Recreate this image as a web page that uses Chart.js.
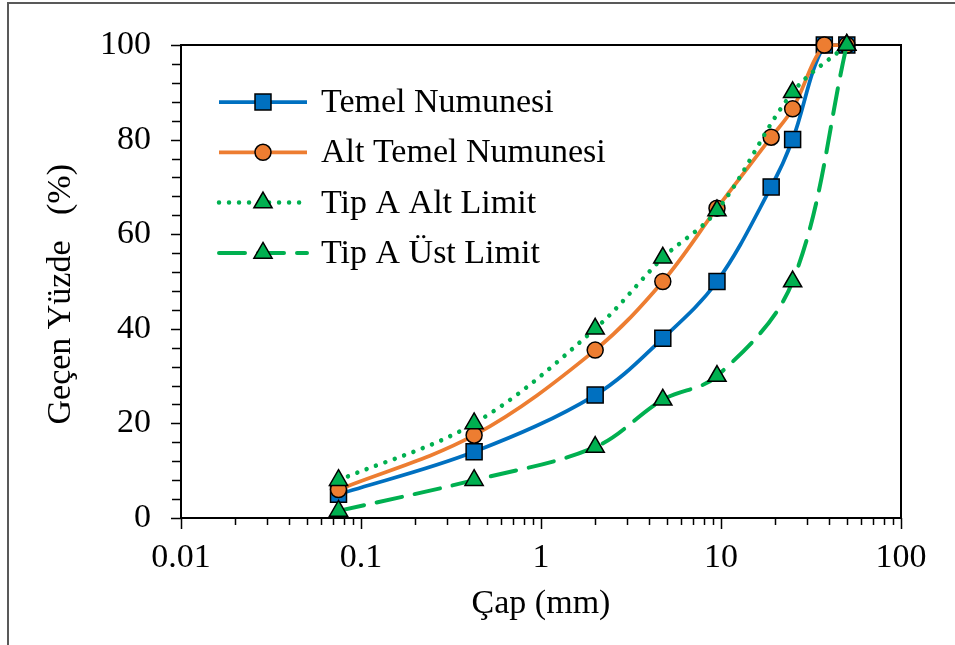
<!DOCTYPE html>
<html>
<head>
<meta charset="utf-8">
<script src="https://cdn.jsdelivr.net/npm/chart.js@4.4.1/dist/chart.umd.min.js"></script>
<style>
body { margin: 0; background: #fff; }
#frame { position: absolute; left: 7px; top: 2px; width: 1000px; height: 700px; border-left: 2px solid #595959; border-top: 2px solid #595959; }
#chart { position: absolute; left: 0; top: 0; }
</style>
</head>
<body>
<div id="frame"></div>
<canvas id="chart" width="955" height="645"></canvas>
<script>
// sieve sizes (mm) and passing percentages
var sieveSizes = [0.075, 0.425, 2, 4.75, 9.5, 19, 25, 37.5, 50];
var temelValues = [5, 14, 26, 38, 50, 70, 80, 100, 100];
var altTemelValues = [6, 17.5, 35.5, 50, 65.5, 80.5, 86.5, 100, 100];
var limitSizes = [0.075, 0.425, 2, 4.75, 9.5, 25, 50];
var altLimitValues = [8, 20, 40, 55, 65, 90, 100];
var ustLimitValues = [1.5, 8, 15, 25, 30, 50, 100];
var seriesNames = ['Temel Numunesi', 'Alt Temel Numunesi', 'Tip A Alt Limit', 'Tip A Üst Limit'];
var xMajorTicks = [0.01, 0.1, 1, 10, 100];
var yMajorTicks = [0, 20, 40, 60, 80, 100];

var fontSize = 34;
var fontFamily = '"Liberation Serif", "Times New Roman", serif';

function toPoints(xs, ys) {
    return xs.map(function(x, i) { return {x: x, y: ys[i]}; });
}

Chart.defaults.font.family = fontFamily;
Chart.defaults.font.size = fontSize;
Chart.defaults.color = '#000';

// plot box and tick marks
var boxPlugin = {
    id: 'box',
    beforeDatasetsDraw: function(chart) {
        var ctx = chart.ctx, a = chart.chartArea;
        var xs = chart.scales.x, ys = chart.scales.y;
        ctx.save();
        ctx.strokeStyle = '#000';
        ctx.lineWidth = 1.5;
        ctx.beginPath();
        xs.ticks.forEach(function(t) {
            var px = Math.round(xs.getPixelForValue(t.value)) + 0.5;
            var len = xMajorTicks.indexOf(t.value) >= 0 ? 11 : 7;
            ctx.moveTo(px, a.bottom);
            ctx.lineTo(px, a.bottom + len);
        });
        ys.ticks.forEach(function(t) {
            var py = Math.round(ys.getPixelForValue(t.value)) + 0.5;
            var len = yMajorTicks.indexOf(t.value) >= 0 ? 10 : 9;
            ctx.moveTo(a.left, py);
            ctx.lineTo(a.left - len, py);
        });
        ctx.stroke();
        ctx.lineWidth = 2;
        ctx.strokeRect(a.left, a.top, a.right - a.left, a.bottom - a.top);
        ctx.restore();
    }
};

// legend drawn inside the plot area
var legendPlugin = {
    id: 'insideLegend',
    afterDatasetsDraw: function(chart) {
        var ctx = chart.ctx;
        var lx = 219, ly = 102, gap = 50.3, w = 88;
        chart.data.datasets.forEach(function(ds, i) {
            var y = ly + i * gap;
            ctx.save();
            ctx.strokeStyle = ds.borderColor;
            ctx.lineWidth = ds.borderWidth;
            ctx.lineCap = ds.borderCapStyle || 'butt';
            ctx.setLineDash(ds.borderDash || []);
            ctx.beginPath();
            ctx.moveTo(lx, y);
            ctx.lineTo(lx + w, y);
            ctx.stroke();
            ctx.setLineDash([]);
            ctx.fillStyle = ds.pointBackgroundColor;
            ctx.strokeStyle = ds.pointBorderColor;
            ctx.lineWidth = ds.pointBorderWidth;
            Chart.helpers.drawPoint(ctx, {
                pointStyle: ds.pointStyle, radius: ds.pointRadius,
                rotation: 0, borderWidth: ds.pointBorderWidth
            }, lx + w / 2, y);
            ctx.fillStyle = '#000';
            ctx.font = fontSize + 'px ' + fontFamily;
            ctx.textBaseline = 'middle';
            ctx.fillText(ds.label, 321, y + 1);
            ctx.restore();
        });
    }
};

var ctx = document.getElementById('chart').getContext('2d');
var chart = new Chart(ctx, {
    type: 'scatter',
    data: {
        datasets: [{
            label: seriesNames[0],
            data: toPoints(sieveSizes, temelValues),
            showLine: true,
            borderColor: '#0070C0',
            borderWidth: 3.75,
            tension: 0.35,
            pointStyle: 'rect',
            pointRadius: 11.3,
            pointBackgroundColor: '#0070C0',
            pointBorderColor: '#000',
            pointBorderWidth: 1.5,
            order: 4,
            clip: false
        }, {
            label: seriesNames[1],
            data: toPoints(sieveSizes, altTemelValues),
            showLine: true,
            borderColor: '#ED7D31',
            borderWidth: 3.75,
            tension: 0.35,
            pointStyle: 'circle',
            pointRadius: 8,
            pointBackgroundColor: '#ED7D31',
            pointBorderColor: '#000',
            pointBorderWidth: 1.5,
            order: 3,
            clip: false
        }, {
            label: seriesNames[2],
            data: toPoints(limitSizes, altLimitValues),
            showLine: true,
            borderColor: '#00B050',
            borderWidth: 4.5,
            borderDash: [0.01, 10],
            borderCapStyle: 'round',
            tension: 0.35,
            pointStyle: 'triangle',
            pointRadius: 10.5,
            pointBackgroundColor: '#00B050',
            pointBorderColor: '#000',
            pointBorderWidth: 1.5,
            order: 2,
            clip: false
        }, {
            label: seriesNames[3],
            data: toPoints(limitSizes, ustLimitValues),
            showLine: true,
            borderColor: '#00B050',
            borderWidth: 4,
            borderDash: [26, 13],
            borderCapStyle: 'round',
            tension: 0.35,
            pointStyle: 'triangle',
            pointRadius: 10.5,
            pointBackgroundColor: '#00B050',
            pointBorderColor: '#000',
            pointBorderWidth: 1.5,
            order: 1,
            clip: false
        }]
    },
    options: {
        responsive: false,
        animation: false,
        layout: { padding: { top: 45, right: 54, left: 0, bottom: 0 } },
        plugins: {
            legend: { display: false },
            tooltip: { enabled: false }
        },
        scales: {
            x: {
                type: 'logarithmic',
                min: 0.01,
                max: 100,
                grid: { display: false },
                border: { display: false },
                afterBuildTicks: function(scale) {
                    var t = [];
                    xMajorTicks.forEach(function(d, i) {
                        t.push({value: d});
                        if (i < xMajorTicks.length - 1) {
                            for (var m = 2; m <= 9; m++) t.push({value: d * m});
                        }
                    });
                    scale.ticks = t;
                },
                afterFit: function(scale) { scale.height = 127; },
                ticks: {
                    autoSkip: false,
                    maxRotation: 0,
                    padding: 12,
                    callback: function(value) {
                        return xMajorTicks.indexOf(value) >= 0 ? String(value) : '';
                    }
                },
                title: {
                    display: true,
                    text: 'Çap (mm)',
                    padding: { top: 0, bottom: 21 }
                }
            },
            y: {
                min: 0,
                max: 100,
                grid: { display: false },
                border: { display: false },
                afterFit: function(scale) { scale.width = 181; },
                ticks: {
                    stepSize: 4,
                    autoSkip: false,
                    padding: 22,
                    callback: function(value) {
                        return yMajorTicks.indexOf(value) >= 0 ? value : '';
                    }
                },
                title: {
                    display: true,
                    text: 'Geçen Yüzde\u00a0\u00a0\u00a0(%)\u00a0\u00a0\u00a0',
                    padding: { top: 41, bottom: 0 }
                }
            }
        }
    },
    plugins: [boxPlugin, legendPlugin]
});
</script>
</body>
</html>
